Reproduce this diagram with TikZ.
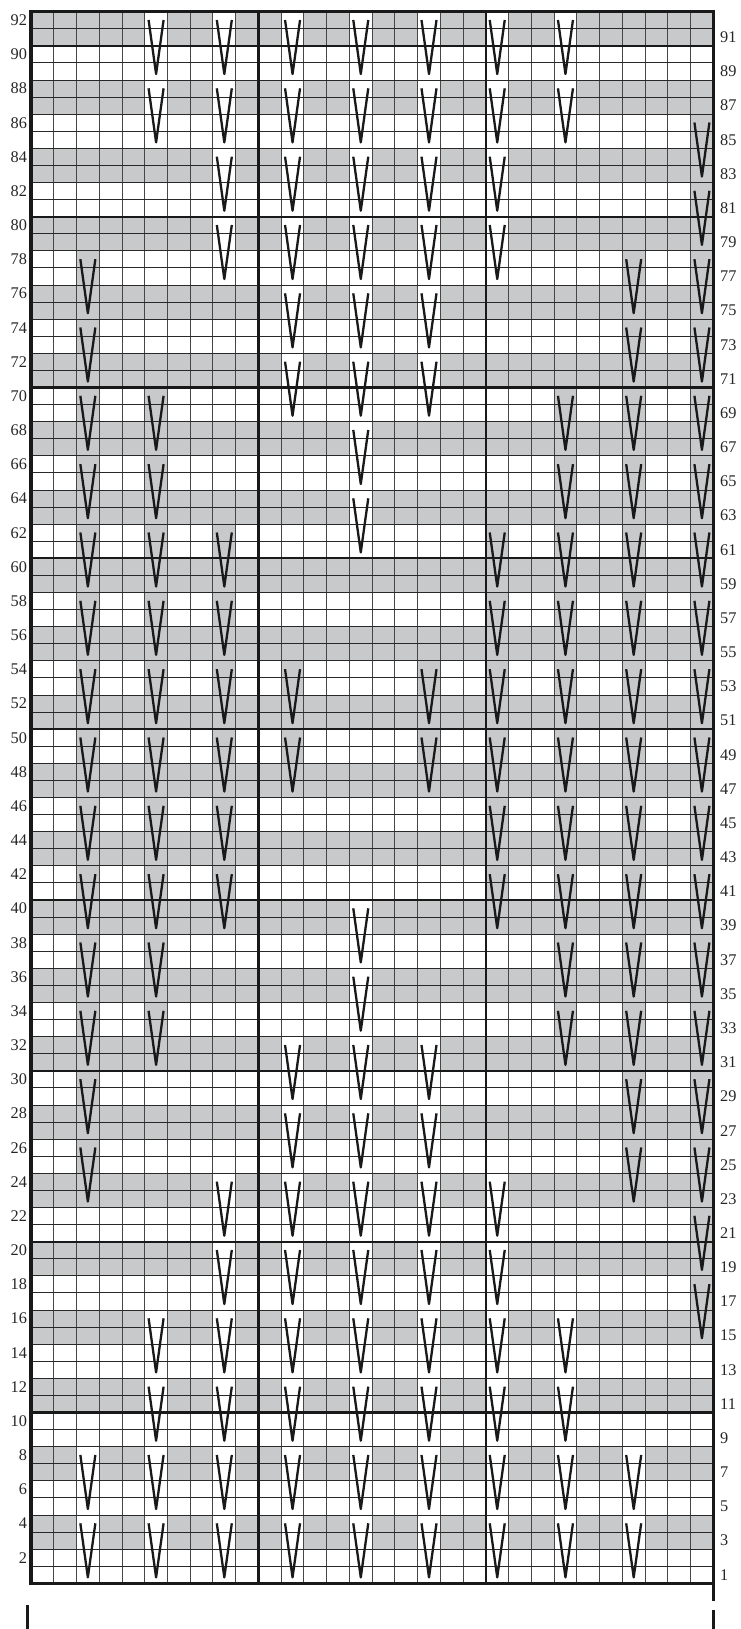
\documentclass[tikz,border=0pt]{standalone}
\usepackage{fontspec}
\setmainfont{Liberation Serif}
\definecolor{chartgray}{RGB}{200,201,203}
\definecolor{hline}{RGB}{40,40,40}
\definecolor{vline}{RGB}{70,70,70}
\tikzset{
  gridh/.style={draw=hline, line width=0.9pt},
  gridv/.style={draw=vline, line width=0.9pt},
  blockline/.style={draw=black!90, line width=2.2pt},
  borderline/.style={draw=black!90, line width=3.3pt},
  vsym/.style={draw=black!90, line width=2.3pt, line join=round, line cap=butt},
  lbl/.style={inner sep=0pt, font=\fontsize{16.3}{18}\selectfont, text=black!85}
}
\newcommand\chartblock[3]{%
  \fill[#3] ({31+(#1-1)*22.743},{11.7+(89-#2)*17.083}) rectangle ({31+#1*22.743},{11.7+(93-#2)*17.083});
}
\newcommand\chartvee[2]{%
  \draw[vsym] ({31+(#1-0.5)*22.743-7.5},{11.7+(89-#2)*17.083+8.3})
    -- ({31+(#1-0.5)*22.743},{11.7+(93-#2)*17.083-6})
    -- ({31+(#1-0.5)*22.743+7.5},{11.7+(89-#2)*17.083+8.3});
}
\newcommand\wfills[2]{\foreach \bb in {#2} {\chartblock{#1}{\bb}{white}}}
\newcommand\gfills[2]{\foreach \bb in {#2} {\chartblock{#1}{\bb}{chartgray}}}
\newcommand\vees[2]{\foreach \bb in {#2} {\chartvee{#1}{\bb}}}
\begin{document}
\begin{tikzpicture}[x=1pt,y=-1pt]
\useasboundingbox (0,0) rectangle (740,1629);
% gray bands (rows 4k+3, 4k+4)
\foreach \k in {0,...,22} {
  \fill[chartgray] (31,{11.7+(88-4*\k)*17.083}) rectangle (713.3,{11.7+(90-4*\k)*17.083});
}
% slipped-stitch column fills
\wfills{3}{1,5}
\wfills{27}{1,5}
\gfills{3}{23,27,...,75}
\gfills{27}{23,27,...,75}
\wfills{6}{1,5,9,13,85,89}
\wfills{24}{1,5,9,13,85,89}
\gfills{6}{31,35,...,67}
\gfills{24}{31,35,...,67}
\wfills{9}{1,5,9,13,17,21,77,81,85,89}
\wfills{21}{1,5,9,13,17,21,77,81,85,89}
\gfills{9}{39,43,...,59}
\gfills{21}{39,43,...,59}
\wfills{12}{1,5,...,29,69,73,...,89}
\wfills{18}{1,5,...,29,69,73,...,89}
\gfills{12}{47,51}
\gfills{18}{47,51}
\wfills{15}{1,5,...,37,61,65,...,89}
\gfills{30}{15,19,...,83}
% thin grid
\foreach \c in {1,...,29} {
  \draw[gridv] ({31+\c*22.743},11.7) -- ({31+\c*22.743},1583.3);
}
\foreach \r in {1,...,91} {
  \draw[gridh] (31,{11.7+\r*17.083}) -- (713.3,{11.7+\r*17.083});
}
% 10-stitch / 10-row lines
\foreach \c in {10,20} {
  \draw[blockline] ({31+\c*22.743},11.7) -- ({31+\c*22.743},1583.3);
}
\foreach \r in {2,12,...,82} {
  \draw[blockline] (31,{11.7+\r*17.083}) -- (713.3,{11.7+\r*17.083});
}
% slip symbols
\vees{3}{1,5,23,27,...,75}
\vees{27}{1,5,23,27,...,75}
\vees{6}{1,5,9,13,31,35,...,67,85,89}
\vees{24}{1,5,9,13,31,35,...,67,85,89}
\vees{9}{1,5,...,21,39,43,...,59,77,81,85,89}
\vees{21}{1,5,...,21,39,43,...,59,77,81,85,89}
\vees{12}{1,5,...,29,47,51,69,73,...,89}
\vees{18}{1,5,...,29,47,51,69,73,...,89}
\vees{15}{1,5,...,37,61,65,...,89}
\vees{30}{15,19,...,83}
% border
\draw[borderline] (31,11.7) rectangle (713.3,1583.3);
\coordinate (brA) at (713.3,1583.3);
\coordinate (brB) at (713.3,1601);
\coordinate (brC) at (713.3,1610);
\coordinate (brD) at (713.3,1629);
\coordinate (blC) at (27.6,1605);
\coordinate (blD) at (27.6,1629);
\draw[borderline] (brA) -- (brB);
\draw[borderline] (brC) -- (brD);
\draw[borderline] (blC) -- (blD);
% row numbers
\foreach \r in {2,4,...,92} {
  \node[lbl, anchor=east] (l\r) at (27.2,{11.7+(92.5-\r)*17.083}) {\r};
}
\foreach \r in {1,3,...,91} {
  \node[lbl, anchor=west] (r\r) at (720,{11.7+(92.5-\r)*17.083}) {\r};
}
\end{tikzpicture}
\end{document}
